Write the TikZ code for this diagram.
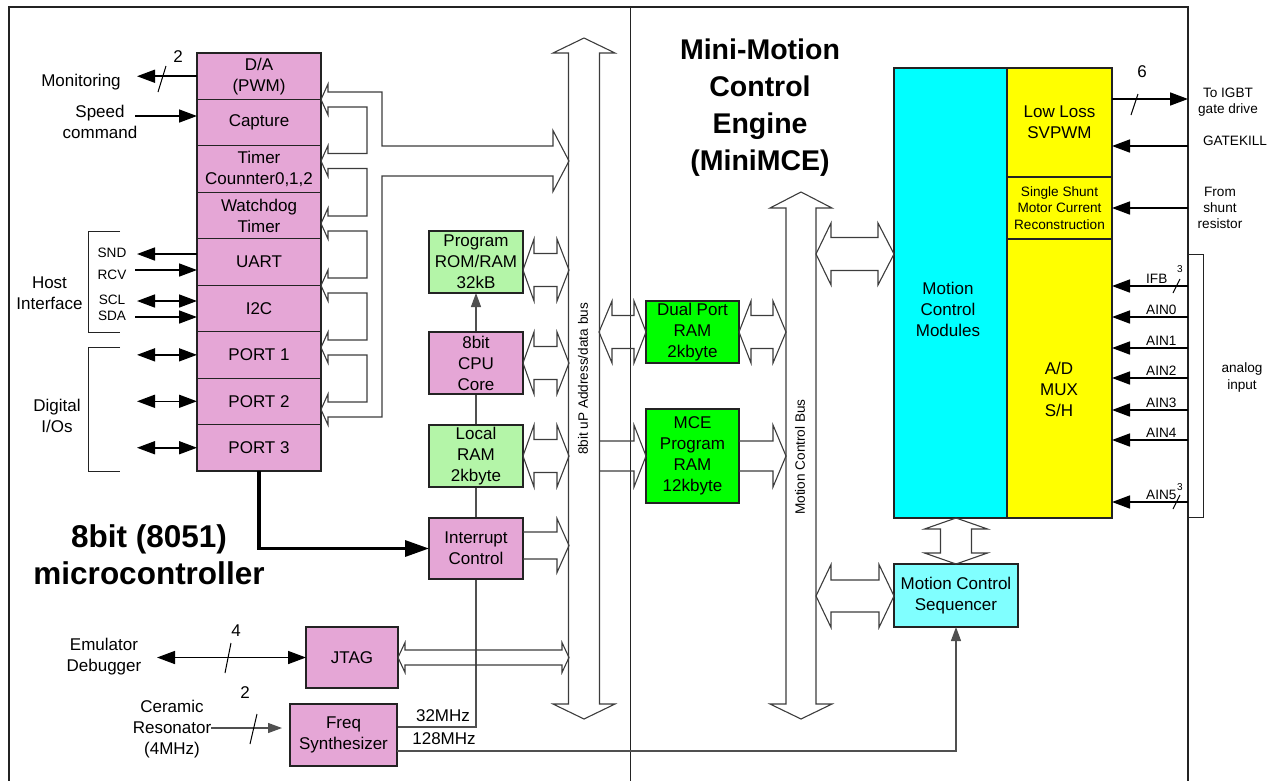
\documentclass[tikz,border=0pt]{standalone}
\usepackage{fontspec}
\setmainfont{Liberation Sans}
\usetikzlibrary{arrows.meta,calc}
\definecolor{pinkc}{RGB}{229,166,214}
\definecolor{lgreen}{RGB}{180,245,168}
\definecolor{bgreen}{RGB}{0,255,0}
\definecolor{cyanc}{RGB}{0,255,255}
\definecolor{lcyan}{RGB}{128,255,255}
\definecolor{yelc}{RGB}{255,255,0}
\definecolor{edgec}{RGB}{35,35,35}
\definecolor{busc}{RGB}{60,60,60}
\definecolor{wirec}{RGB}{80,80,80}
\newcommand\fsN{\fontsize{17}{21}\selectfont}
\newcommand\fsS{\fontsize{13.6}{16.3}\selectfont}
\newcommand\fsX{\fontsize{10}{12}\selectfont}
\newcommand\fsT{\bfseries\fontsize{28.5}{37}\selectfont}
\newcommand\fsU{\bfseries\fontsize{31.5}{37}\selectfont}
\pgfdeclarelayer{bg}
\pgfsetlayers{bg,main}
% hollow double arrow: #1 left point, #2 right point, #3 half shaft, #4 half head, #5 left head length, #6 right head length
\newcommand\hdarrow[6]{\draw[hollow] let \p1=#1, \p2=#2 in
 (\x1,\y1) -- (\x1+#5pt,\y1+#4pt) -- (\x1+#5pt,\y1+#3pt) -- (\x2-#6pt,\y1+#3pt) -- (\x2-#6pt,\y1+#4pt) -- (\x2,\y1)
 -- (\x2-#6pt,\y1-#4pt) -- (\x2-#6pt,\y1-#3pt) -- (\x1+#5pt,\y1-#3pt) -- (\x1+#5pt,\y1-#4pt) -- cycle;}
% hollow single arrow (tail at #1, head at #2)
\newcommand\hsarrow[5]{\draw[hollow] let \p1=#1, \p2=#2 in
 (\x1,\y1+#3pt) -- (\x2-#5pt,\y1+#3pt) -- (\x2-#5pt,\y1+#4pt) -- (\x2,\y1) -- (\x2-#5pt,\y1-#4pt) -- (\x2-#5pt,\y1-#3pt) -- (\x1,\y1-#3pt);}
% hollow vertical double arrow: #1 top tip, #2 bottom tip
\newcommand\vdarrow[6]{\draw[hollow] let \p1=#1, \p2=#2 in
 (\x1,\y1) -- (\x1+#4pt,\y1-#5pt) -- (\x1+#3pt,\y1-#5pt) -- (\x1+#3pt,\y2+#6pt) -- (\x1+#4pt,\y2+#6pt) -- (\x1,\y2)
 -- (\x1-#4pt,\y2+#6pt) -- (\x1-#3pt,\y2+#6pt) -- (\x1-#3pt,\y1-#5pt) -- (\x1-#4pt,\y1-#5pt) -- cycle;}
\begin{document}
\begin{tikzpicture}[x=1pt,y=-1pt,
  box/.style={draw=edgec,line width=1.1pt,inner sep=0pt,outer sep=0pt,align=center,font=\fsN},
  lbl/.style={inner sep=0pt,align=center,font=\fsN},
  slbl/.style={inner sep=0pt,align=center,font=\fsS},
  hollow/.style={draw=busc,line width=1.1pt,line join=miter},
  sig/.style={line width=1.6pt,-{Triangle[length=18pt,width=13pt]}},
  bsig/.style={line width=1.6pt,{Triangle[length=18pt,width=13pt]}-{Triangle[length=18pt,width=13pt]}},
  thinsig/.style={draw=wirec,line width=1.2pt,-{Triangle[length=14pt,width=10pt]}},
  wire/.style={draw=wirec,line width=1.2pt},
  thickarr/.style={line width=3.3pt,-{Triangle[length=24pt,width=16pt]}},
  slashline/.style={line width=1pt},
  bracket/.style={line width=1pt,draw=edgec},
  frameline/.style={line width=1.4pt,draw=edgec}]
\useasboundingbox (0,0) rectangle (1275,780);

% frame
\draw[frameline] (9,781) -- (9,7) -- (1188,7) -- (1188,781);
\draw[frameline] (630.5,7) -- (630.5,781);

% left peripheral stack
\node[box,fill=pinkc,minimum width=124,minimum height=46.44] (da) at (259,76.22) {D/A\\(PWM)};
\node[box,fill=pinkc,minimum width=124,minimum height=46.44] (cap) at (259,122.66) {Capture};
\node[box,fill=pinkc,minimum width=124,minimum height=46.44] (tim) at (259,169.10) {Timer\\Counnter0,1,2};
\node[box,fill=pinkc,minimum width=124,minimum height=46.44] (wd) at (259,215.54) {Watchdog\\Timer};
\node[box,fill=pinkc,minimum width=124,minimum height=46.44] (uart) at (259,261.98) {UART};
\node[box,fill=pinkc,minimum width=124,minimum height=46.44] (itc) at (259,308.42) {I2C};
\node[box,fill=pinkc,minimum width=124,minimum height=46.44] (p1) at (259,354.86) {PORT 1};
\node[box,fill=pinkc,minimum width=124,minimum height=46.44] (p2) at (259,401.30) {PORT 2};
\node[box,fill=pinkc,minimum width=124,minimum height=46.44] (p3) at (259,447.74) {PORT 3};

% CPU column
\node[box,fill=lgreen,minimum width=94,minimum height=62] (rom) at (476,262) {Program\\ROM/RAM\\32kB};
\node[box,fill=pinkc,minimum width=94,minimum height=62] (cpu) at (476,363) {8bit\\CPU\\Core};
\node[box,fill=lgreen,minimum width=94,minimum height=62] (lram) at (476,456) {Local\\RAM\\2kbyte};
\node[box,fill=pinkc,minimum width=94,minimum height=61] (int) at (476,548.5) {Interrupt\\Control};
\node[box,fill=pinkc,minimum width=92,minimum height=61] (jtag) at (352,657.5) {JTAG};
\node[box,fill=pinkc,minimum width=107,minimum height=62] (freq) at (343.5,735) {Freq\\Synthesizer};

% MCE side
\node[box,fill=bgreen,minimum width=93,minimum height=62] (dpr) at (692.5,332) {Dual Port\\RAM\\2kbyte};
\node[box,fill=bgreen,minimum width=93,minimum height=94] (mce) at (692.5,456) {MCE\\Program\\RAM\\12kbyte};
\node[box,fill=cyanc,minimum width=113,minimum height=450] (mcm) at (950.5,293) {};
\node[lbl] (mcmtxt) at (948,309) {Motion\\Control\\Modules};
\node[box,fill=yelc,minimum width=105,minimum height=109] (svp) at (1059.5,122.5) {Low Loss\\SVPWM};
\node[box,fill=yelc,minimum width=105,minimum height=62,font=\fsS] (ssh) at (1059.5,208) {Single Shunt\\Motor Current\\Reconstruction};
\node[box,fill=yelc,minimum width=105,minimum height=279] (adc) at (1059.5,378.5) {};
\node[lbl] (adctxt) at (1059,389) {A/D\\MUX\\S/H};
\node[box,fill=lcyan,minimum width=124,minimum height=63] (seq) at (956,595.5) {Motion Control\\Sequencer};

% titles
\node[inner sep=0pt,align=center,font=\fsT] (ttl) at (760,108) {Mini-Motion\\Control\\Engine\\(MiniMCE)};
\node[inner sep=0pt,align=center,font=\fsU] (ttl2) at (149,555) {8bit (8051)\\microcontroller};

% buses
\coordinate (busL) at (569,0);
\coordinate (busR) at (599,0);
\coordinate (mbusL) at (786,0);
\coordinate (mbusR) at (816,0);
\coordinate (bus1top) at (584,38);
\coordinate (bus1bot) at (584,719);
\coordinate (bus2top) at (801,192);
\coordinate (bus2bot) at (801,719);
\vdarrow{(bus1top)}{(bus1bot)}{15.5}{31}{15}{15}
\vdarrow{(bus2top)}{(bus2bot)}{15}{31}{16}{15}
\node[slbl,rotate=90] (bus1lbl) at (583,379) {8bit uP Address/data bus};
\node[slbl,rotate=90] (bus2lbl) at (800,457) {Motion Control Bus};

% peripheral bus tree
\draw[hollow] (569,161) -- (553,130.5) -- (553,146) -- (382,146) -- (382,92) -- (328,92) -- (328,84) -- (321,99.5) -- (328,115) -- (328,107)
 -- (367,107) -- (367,153.5) -- (328,153.5) -- (328,145.5) -- (321,161) -- (328,176.5) -- (328,168.5)
 -- (367,168.5) -- (367,216) -- (328,216) -- (328,208) -- (321,223.5) -- (328,239) -- (328,231)
 -- (367,231) -- (367,278) -- (328,278) -- (328,270) -- (321,285.5) -- (328,301) -- (328,293)
 -- (367,293) -- (367,340) -- (328,340) -- (328,332) -- (321,347.5) -- (328,363) -- (328,355)
 -- (367,355) -- (367,402) -- (328,402) -- (328,394) -- (321,409.5) -- (328,425) -- (328,417)
 -- (382,417) -- (382,176) -- (553,176) -- (553,191.5) -- cycle;

% hollow connectors, left side
\hdarrow{($(rom.east)+(0,8)$)}{(busL)}{16.5}{31}{11}{12}
\hdarrow{(cpu.east)}{(busL)}{16.5}{31}{11}{12}
\hdarrow{(lram.east)}{(busL)}{16.5}{31}{11}{12}
\hsarrow{($(int.east)+(0,-3)$)}{(busL)}{13.5}{27}{12}
\hdarrow{(jtag.east)}{(busL)}{7.5}{15}{7}{7}
% hollow connectors, MCE side
\coordinate (dpl) at (599,332);
\coordinate (dpr2) at (786,332);
\coordinate (mcl) at (599,456);
\coordinate (mcr) at (786,456);
\coordinate (m1) at (816,254);
\coordinate (m2) at (816,596);
\hdarrow{(dpl)}{(dpr.west)}{16.5}{31}{13}{12}
\hdarrow{(dpr.east)}{(dpr2)}{16.5}{31}{12}{13}
\hsarrow{(mcl)}{(mce.west)}{15}{31}{12}
\hsarrow{(mce.east)}{(mcr)}{15}{31}{13}
\hdarrow{(m1)}{(mcm.west)}{16.5}{31}{15}{16}
\hdarrow{(m2)}{(seq.west)}{16}{31.5}{15}{15}
\vdarrow{(seq.north |- mcm.south)}{(seq.north)}{15.5}{31.5}{11}{11}

% clock lines
\begin{pgfonlayer}{bg}
\draw[thinsig] ($(freq.east)+(0,-8)$) -| (rom.south);
\end{pgfonlayer}
\draw[thinsig] ($(freq.east)+(0,16)$) -| (seq.south);
\node[lbl] (f32) at (443,716) {32MHz};
\node[lbl] (f128) at (444,739) {128MHz};

% port 3 to interrupt
\draw[thickarr] (p3.south) |- (int.west);

% left signals
\coordinate (monend) at (137,76.22);
\draw[sig] (da.west) -- (monend);
\draw[slashline] (158,92) -- (166,66);
\node[lbl] (n2a) at (178,57) {2};
\node[lbl] (mon) at (81,82) {Monitoring};
\coordinate (spd) at (135,116);
\draw[sig] (spd) -- (spd -| cap.west);
\node[lbl] (spdl) at (100,122) {Speed\\command};
\coordinate (snd) at (137,254);
\draw[sig] (snd -| uart.west) -- (snd);
\coordinate (rcv) at (135,270);
\draw[sig] (rcv) -- (rcv -| uart.west);
\coordinate (scl) at (137,301);
\draw[bsig] (scl) -- (scl -| itc.west);
\coordinate (sda) at (135,317);
\draw[sig] (sda) -- (sda -| itc.west);
\node[slbl] (sndl) at (112,253) {SND};
\node[slbl] (rcvl) at (112,275) {RCV};
\node[slbl] (scll) at (112,300) {SCL};
\node[slbl] (sdal) at (112,316) {SDA};
\draw[bracket] (120,231) -- (88,231) -- (88,332) -- (120,332);
\node[lbl] (host) at (49.5,293) {Host\\Interface};
\draw[bsig] (p1.west) -- ++(-60,0);
\draw[bsig] (p2.west) -- ++(-60,0);
\draw[bsig] (p3.west) -- ++(-60,0);
\draw[bracket] (120,347) -- (88,347) -- (88,471) -- (120,471);
\node[lbl] (dio) at (57,416) {Digital\\I/Os};

% emulator / resonator
\draw[bsig] (jtag.west) -- ++(-149,0);
\draw[slashline] (225,673) -- (231,643);
\node[lbl] (n4) at (236,631) {4};
\node[lbl] (emu) at (104,657) {Emulator\\Debugger};
\coordinate (cer) at (211,728);
\draw[thinsig,shorten >=8pt] (cer) -- (cer -| freq.west);
\draw[slashline] (250,744) -- (257,714);
\node[lbl] (n2b) at (245,693) {2};
\node[lbl] (cerl) at (172,729) {Ceramic\\Resonator\\(4MHz)};

% right signals
\coordinate (igbt) at (1188,99);
\draw[sig] (igbt -| svp.east) -- (igbt);
\draw[slashline] (1131,115) -- (1138,94);
\node[lbl] (n6) at (1142,72) {6};
\node[slbl] (igbtl) at (1228,102.5) {To IGBT\\gate drive};
\coordinate (gk) at (1188,146);
\draw[sig] (gk) -- (gk -| svp.east);
\node[slbl] (gkl) at (1235,141) {GATEKILL};
\coordinate (shr) at (1188,208);
\draw[sig] (shr) -- (shr -| ssh.east);
\node[slbl] (shl) at (1220,208) {From\\shunt\\resistor};
\foreach \yy/\lab [count=\i] in {286/IFB,317/AIN0,348/AIN1,378/AIN2,410/AIN3,440/AIN4,502/AIN5}{
  \coordinate (a\i) at (1188,\yy);
  \draw[sig] (a\i) -- (a\i -| adc.east);
  \node[slbl,anchor=base west] (al\i) at (1146,\yy-2.5) {\lab};
}
\draw[slashline] (1173,293) -- (1180,279);
\node[inner sep=0pt,font=\fsX] (n3a) at (1180,269) {3};
\draw[slashline] (1173,509) -- (1180,495);
\node[inner sep=0pt,font=\fsX] (n3b) at (1180,487) {3};
\draw[bracket] (1188,254) -- (1203,254) -- (1203,517) -- (1188,517);
\node[slbl] (ana) at (1242,377.5) {analog\\input};
\end{tikzpicture}
\end{document}
